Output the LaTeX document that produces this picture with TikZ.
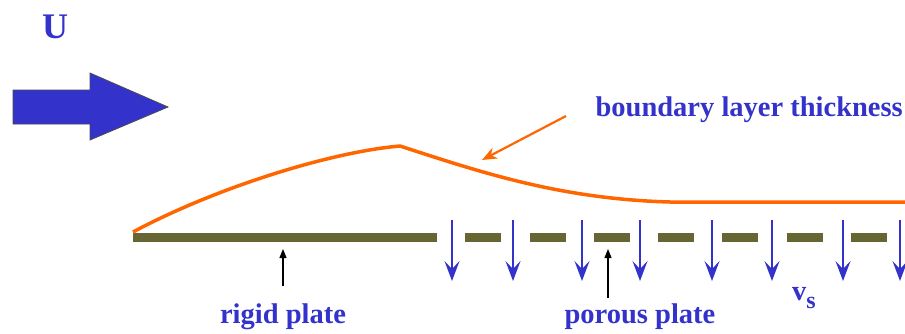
\documentclass[tikz,border=0pt]{standalone}
\usepackage{fontspec}
\setmainfont{Liberation Serif}
\usetikzlibrary{arrows.meta}
\definecolor{flowblue}{HTML}{3333CC}
\definecolor{blorange}{HTML}{FF6600}
\definecolor{plateolive}{HTML}{666633}
\tikzset{
  lbl/.style={text=flowblue, font=\bfseries\fontsize{28.5}{32}\selectfont, inner sep=0pt},
  plate/.style={draw=none, fill=plateolive},
  suction/.style={flowblue, line width=2pt, -{Stealth[length=20pt, width=15pt, inset=8pt]}},
  pointer/.style={black, line width=1.2pt, -{Triangle[length=9pt, width=7pt]}}
}
\begin{document}
\begin{tikzpicture}[x=1pt,y=-1pt]
\useasboundingbox (0,0) rectangle (905,333);
\node[lbl, font=\bfseries\fontsize{36}{40}\selectfont] (U) at (55,27) {U};
\draw[fill=flowblue, draw=black!70, line width=0.8pt] (13,90) -- (90,90) -- (90,73) -- (168,107) -- (90,140) -- (90,124) -- (13,124) -- cycle;
\fill[plate] (133,233) rectangle (437,242);
\foreach \x in {465,530,594,658,722,787,851} {
  \fill[plate] (\x,233) rectangle (\x+36,242);
}
\foreach \x in {452,513,582,640,712,772,843,900} {
  \draw[suction] (\x,220) -- (\x,281);
}
\draw[blorange, line width=3.5pt, line join=round] (133,232) .. controls (215,188) and (330,152) .. (400,146)
  .. controls (480,172) and (560,199) .. (670,202) -- (905,202);
\node[lbl, anchor=base east] (blt) at (903,116) {boundary layer thickness};
\coordinate (bltpt) at (482,160);
\draw[blorange, line width=2.2pt, -{Stealth[length=15pt, width=12pt, inset=5pt]}] (566,116) -- (bltpt);
\node[lbl, anchor=base] (rigid) at (283,323) {rigid plate};
\coordinate (rigidpt) at (283,249);
\draw[pointer] (283,286) -- (rigidpt);
\node[lbl, anchor=base] (porous) at (640,323) {porous plate};
\coordinate (porouspt) at (608,249);
\draw[pointer] (608,298) -- (porouspt);
\node[lbl, anchor=base west] (vs) at (792,300) {v\raisebox{-8pt}{\fontsize{24}{26}\selectfont s}};
\end{tikzpicture}
\end{document}
